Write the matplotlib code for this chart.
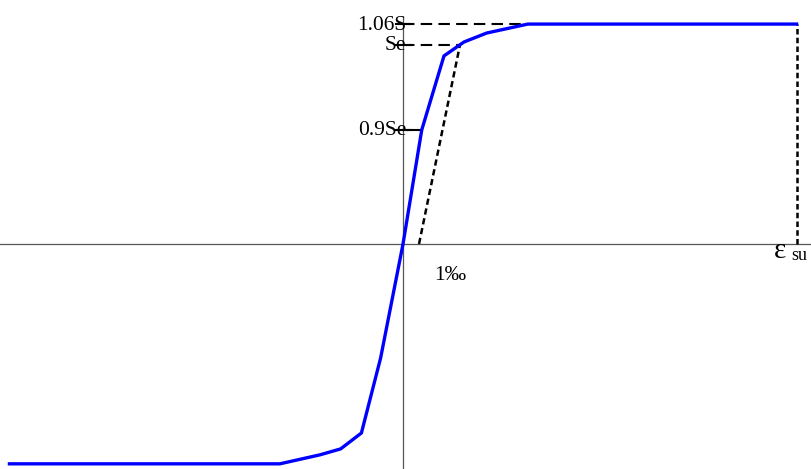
import numpy as np
import matplotlib.pyplot as plt

plt.rcParams['font.family'] = ['Liberation Serif', 'DejaVu Serif']

# stress-strain curve (strain in permille, stress relative to Se; schematic scale)
strain = [-24.6, -7.7, -5.2, -3.9, -2.6, -1.4, 0.0, 1.17, 2.56, 3.81, 5.23, 7.8, 24.6]
stress = [-1.105, -1.105, -1.06, -1.03, -0.95, -0.573, 0.0, 0.573, 0.945, 1.015, 1.06, 1.105, 1.105]

eps_e = 1.0      # 1 permille
eps_top = 3.56   # strain where the elastic line reaches Se
eps_su = 24.6
lev_se = 1.0
lev_09 = 0.573
lev_106 = 1.105

tick_labels = ['1.06S', 'Se', '0.9Se']
tick_levels = [lev_106, lev_se, lev_09]

fig = plt.figure(figsize=(8.11, 4.69), dpi=100)
ax = fig.add_axes([0, 0, 1, 1])
ax.set_xlim(-25.19, 25.5)
ax.set_ylim(-1.131, 1.226)
ax.axis('off')

# axes through the origin
ax.plot([-30, 30], [0, 0], color='#555555', lw=0.9)
ax.plot([0, 0], [-1.2, 1.13], color='#555555', lw=0.9)

# guide lines
ax.plot([0, 7.8], [lev_106, lev_106], 'k--', lw=1.5, dashes=(5.5, 3))
ax.plot([0, eps_top], [lev_se, lev_se], 'k--', lw=1.5, dashes=(5.5, 3))
ax.plot([0, strain[7]], [lev_09, lev_09], 'k-', lw=1.5)
ax.plot([eps_e, eps_top], [0, lev_se], 'k--', lw=1.8, dashes=(2.5, 1.5))
ax.plot([eps_su, eps_su], [0, lev_106], 'k--', lw=1.8, dashes=(2.2, 1.3))

# main curve
ax.plot(strain, stress, color='#0000ff', lw=2.4, solid_joinstyle='miter', zorder=5)

# tick marks and labels on the stress axis
for lab, lev in zip(tick_labels, tick_levels):
    ax.plot([-0.45, 0.5], [lev, lev], 'k-', lw=1.5)
    ax.text(0.2, lev - 0.005, lab, ha='right', va='center', fontsize=15.5)

ax.text(2.95, -0.16, '1‰', ha='center', va='center', fontsize=15.5)
ax.text(23.2, -0.072, 'ε', ha='left', va='baseline', fontsize=21)
ax.text(24.25, -0.08, 'su', ha='left', va='baseline', fontsize=13)

fig.savefig('out.png', dpi=100)
